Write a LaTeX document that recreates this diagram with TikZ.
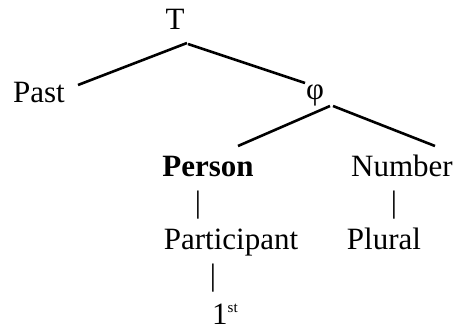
\documentclass[tikz,border=0pt]{standalone}
\usepackage{fontspec}
\setmainfont{Liberation Serif}
\begin{document}
\begin{tikzpicture}[x=1pt,y=-1pt,
  lbl/.style={anchor=base,inner sep=0pt,font=\fontsize{31}{36}\selectfont},
  edge/.style={line width=2.6pt}]
\useasboundingbox (0,0) rectangle (459,329);
\node[lbl] (T) at (175,30) {T};
\node[lbl] (past) at (39,103) {Past};
\node[lbl] (phi) at (315,100) {φ};
\node[lbl] (person) at (208,177) {\bfseries Person};
\node[lbl] (number) at (402,177) {Number};
\node[lbl] (bar1) at (198,213) {|};
\node[lbl] (bar2) at (394,213) {|};
\node[lbl] (participant) at (231,250) {Participant};
\node[lbl] (plural) at (384,250) {Plural};
\node[lbl] (bar3) at (213,286) {|};
\node[lbl,anchor=base west] (first) at (212,324) {1\raisebox{12pt}{\fontsize{15}{16}\selectfont st}};
\draw[edge] ([shift={(12,13)}]T.base) -- ([shift={(39,-18)}]past.base);
\draw[edge] ([shift={(13,14)}]T.base) -- ([shift={(-10,-17)}]phi.base);
\draw[edge] ([shift={(15,6)}]phi.base) -- ([shift={(30,-31)}]person.base);
\draw[edge] ([shift={(18,6)}]phi.base) -- ([shift={(33,-31)}]number.base);
\end{tikzpicture}
\end{document}
